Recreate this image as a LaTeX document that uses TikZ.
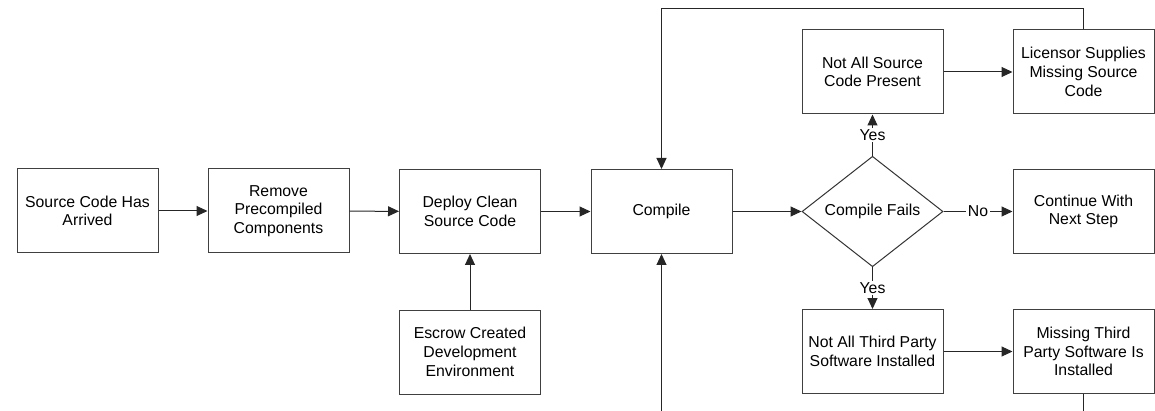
\documentclass[tikz,border=0pt]{standalone}
\usepackage{fontspec}
\setmainfont{Liberation Sans}
\usetikzlibrary{shapes.geometric,arrows.meta}
\begin{document}
\begin{tikzpicture}[x=1pt,y=-1pt,
  font=\fontsize{15.8}{18.7}\selectfont,
  proc/.style={draw=black!75,line width=1pt,rectangle,minimum width=141pt,minimum height=84pt,align=center,inner sep=0pt},
  decide/.style={draw=black!80,line width=1pt,diamond,minimum width=141pt,minimum height=83pt,inner sep=0pt,align=center},
  conn/.style={draw=black!85,line width=1pt,-{Triangle[length=11pt,width=10pt]}},
  plain/.style={draw=black!85,line width=1pt},
  lbl/.style={fill=white,inner sep=1.5pt}
]
\useasboundingbox (0,0) rectangle (1155,411);
\node[proc] (arr) at (87.5,211) {Source Code Has\\Arrived};
\node[proc] (rem) at (278.5,211) {Remove\\Precompiled\\Components};
\node[proc] (dep) at (470,211.5) {Deploy Clean\\Source Code};
\node[proc] (esc) at (470,352) {Escrow Created\\Development\\Environment};
\node[proc] (cmp) at (661.5,211.5) {Compile};
\node[decide] (fail) at (872.5,211.5) {Compile Fails};
\node[proc] (nas) at (872.5,72) {Not All Source\\Code Present};
\node[proc] (lic) at (1083.5,72) {Licensor Supplies\\Missing Source\\Code};
\node[proc] (cont) at (1083.5,211.5) {Continue With\\Next Step};
\node[proc] (nat) at (872.5,351.5) {Not All Third Party\\Software Installed};
\node[proc] (mis) at (1083.5,351.5) {Missing Third\\Party Software Is\\Installed};
\coordinate (top) at (661.5,8.7);
\coordinate (misEnd) at (1083.5,411);
\coordinate (cmpIn) at (661.5,411);

\draw[conn] (arr) -- (rem);
\draw[conn] (rem) -- (dep);
\draw[conn] (esc) -- (dep);
\draw[conn] (dep) -- (cmp);
\draw[conn] (cmp) -- (fail.west);
\draw[conn] (fail.north) -- node[lbl,pos=0.5] {Yes} (nas);
\draw[conn] (fail.south) -- node[lbl,pos=0.5] {Yes} (nat);
\draw[conn] (fail.east) -- node[lbl,pos=0.5] {No} (cont);
\draw[conn] (nas) -- (lic);
\draw[conn] (nat) -- (mis);
\draw[conn] (lic.north) |- (top) -- (cmp.north);
\draw[plain] (mis.south) -- (misEnd);
\draw[conn] (cmpIn) -- (cmp.south);
\end{tikzpicture}
\end{document}
